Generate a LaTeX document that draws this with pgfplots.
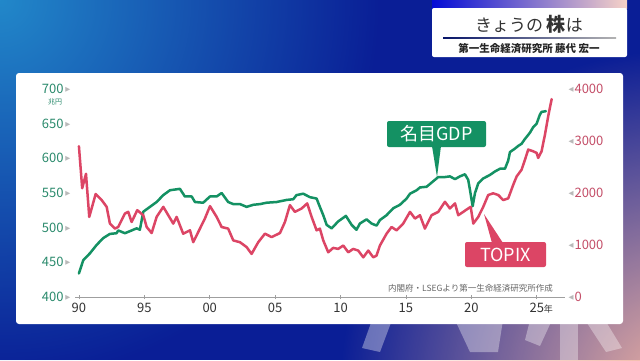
\documentclass[border=0pt]{standalone}
\usepackage{pgfplots}
\pgfplotsset{compat=1.18}
\usepackage{fontspec}
\setmainfont{Noto Sans CJK JP}
\newfontfamily\sym{DejaVu Sans}
\usetikzlibrary{fadings}
\definecolor{bgblue}{HTML}{0A1E96}
\definecolor{lightblue}{HTML}{2288CA}
\definecolor{bgpink}{HTML}{F2B4A2}
\definecolor{gdpgreen}{HTML}{149163}
\definecolor{topixred}{HTML}{DC4565}
\definecolor{ticgreen}{HTML}{2A8A6C}
\definecolor{ticred}{HTML}{C44E68}
\tikzfading[name=fadecirc, inner color=transparent!0, outer color=transparent!100]
\pgfplotstableread{
x y
1990.00 434
1990.33 453
1990.84 463
1991.35 475
1991.86 485
1992.37 491
1992.88 492
1993.00 496
1993.52 492
1994.03 496
1994.41 499
1994.66 497
1994.92 523
1995.43 530
1995.94 537
1996.45 547
1996.96 554
1997.72 556
1998.10 545
1998.62 545
1998.87 537
1999.50 536
2000.02 545
2000.53 545
2000.91 550
2001.41 537
2001.80 534
2002.31 534
2002.82 530
2003.33 533
2003.84 534
2004.35 536
2005.11 537
2005.88 540
2006.38 541
2006.64 547
2007.15 549
2007.66 544
2008.17 542
2008.42 530
2008.68 518
2008.94 504
2009.32 499
2009.82 509
2010.41 517
2010.85 504
2011.22 497
2011.48 506
2011.99 512
2012.37 506
2012.76 503
2013.01 511
2013.52 518
2014.03 528
2014.54 533
2015.05 542
2015.31 549
2015.82 554
2016.07 558
2016.58 559
2017.09 567
2017.47 573
2017.98 573
2018.36 574
2018.75 570
2019.13 574
2019.51 577
2019.76 569
2019.89 555
2020.10 531
2020.28 550
2020.53 564
2020.91 571
2021.42 576
2021.80 581
2022.19 585
2022.57 585
2022.82 597
2022.95 609
2023.33 614
2023.59 618
2023.84 621
2024.10 628
2024.48 637
2024.73 645
2024.99 650
2025.24 663
2025.37 667
2025.70 668
}\gdp
\pgfplotstableread{
x y
1990.00 2900
1990.25 2091
1990.54 2369
1990.79 1540
1991.28 1981
1991.74 1864
1992.12 1734
1992.37 1412
1992.75 1315
1993.00 1346
1993.52 1606
1993.77 1637
1994.03 1443
1994.46 1670
1994.92 1573
1995.18 1346
1995.56 1230
1995.94 1540
1996.45 1734
1997.21 1412
1997.47 1540
1997.97 1218
1998.49 1282
1998.74 1054
1999.25 1315
1999.63 1509
2000.02 1748
2000.53 1540
2000.91 1346
2001.41 1315
2001.80 1088
2002.31 1054
2002.82 960
2003.20 829
2003.71 1054
2004.22 1218
2004.73 1152
2005.37 1230
2005.75 1443
2006.13 1767
2006.51 1637
2007.03 1703
2007.45 1800
2007.79 1540
2008.17 1282
2008.42 1315
2008.68 1088
2009.06 860
2009.44 945
2009.82 925
2010.21 990
2010.59 860
2010.97 925
2011.35 893
2011.74 763
2012.12 893
2012.50 763
2012.75 796
2013.01 990
2013.52 1217
2013.90 1346
2014.29 1282
2014.79 1412
2015.31 1637
2015.69 1509
2016.07 1573
2016.45 1315
2016.96 1573
2017.47 1637
2017.98 1831
2018.36 1703
2018.75 1800
2019.00 1573
2019.38 1637
2019.76 1703
2019.95 1734
2020.15 1412
2020.53 1540
2020.91 1734
2021.29 1961
2021.67 1994
2022.06 1961
2022.44 1864
2022.82 1897
2023.20 2156
2023.46 2317
2023.84 2447
2024.10 2641
2024.35 2835
2024.73 2802
2024.99 2771
2025.11 2674
2025.37 2802
2025.63 3126
2025.88 3482
2026.14 3806
}\topix
\begin{document}
\begin{tikzpicture}[x=1pt,y=1pt]
\useasboundingbox (0,0) rectangle (640,360);
\begin{scope}
\clip (0,0) rectangle (640,360);
\fill[bgblue] (0,0) rectangle (640,360);
\fill[lightblue, path fading=fadecirc] (0,360) circle (380);
\fill[bgpink, path fading=fadecirc] (680,-30) circle (340);
% watermark shapes
\fill[white, opacity=0.35] (372,40) -- (392,40) -- (380,8) -- (362,12) -- cycle;
\fill[white, opacity=0.35] (455,40) -- (503,40) -- (498,8) -- (470,8) -- cycle;
\fill[white, opacity=0.35] (560,40) -- (578,40) -- (578,0) -- (560,0) -- cycle;
\fill[white, opacity=0.35] (530,40) -- (552,40) -- (540,14) -- (525,20) -- cycle;
\fill[white, opacity=0.35] (585,40) -- (605,40) -- (622,12) -- (606,8) -- cycle;
\end{scope}
% title box
\shade[left color=blue!60!bgblue, right color=bgpink!60!white] (432,352) rectangle (627,360);
\fill[white, rounded corners=2pt] (432,303) rectangle (627,352);
\node[text=black!80, font=\fontsize{17}{17}\selectfont] at (529,336) {きょうの \textbf{\fontsize{19}{19}\selectfont 株}は};
\shade[left color=bgblue!70!black, right color=gray!60] (443,321.5) rectangle (616,322.8);
\node[text=black!85, font=\fontsize{10.5}{10.5}\selectfont\bfseries] at (529,311) {第一生命経済研究所 藤代 宏一};
% panel
\fill[white, rounded corners=3pt] (16,36) rectangle (623,287);
% left axis
\begin{axis}[at={(75pt,63pt)}, anchor=south west, scale only axis,
  width=490pt, height=208pt,
  xmin=1989.7, xmax=2027.16, ymin=400, ymax=700,
  axis x line*=bottom, axis y line*=left,
  y axis line style={draw=none}, ytick style={draw=none},
  x axis line style={draw=gray!75, line width=0.8pt},
  xtick style={draw=gray!75, line width=0.7pt}, major tick length=4pt, tick align=center,
  xtick={1990,1995,...,2025},
  xticklabels={90,95,00,05,10,15,20,{25\makebox[0pt][l]{\fontsize{9}{9}\selectfont 年}}},
  xticklabel style={text=black!80, font=\fontsize{13}{13}\selectfont, yshift=-1pt},
  ytick={400,450,...,700},
  yticklabel={\pgfmathprintnumber{\tick}\hspace{2pt}\raisebox{2.3pt}{\sym\fontsize{6.5}{6.5}\selectfont\color{gray!55}▶}},
  yticklabel style={text=ticgreen, font=\fontsize{13}{13}\selectfont, xshift=1pt},
  /pgf/number format/assume math mode=true,
  /pgf/number format/1000 sep={},
  clip=false]
\addplot[gdpgreen, line width=2.5pt, line join=round, line cap=round] table[x=x,y=y] {\gdp};
\end{axis}
% right axis
\begin{axis}[at={(75pt,63pt)}, anchor=south west, scale only axis,
  width=490pt, height=208pt,
  xmin=1989.7, xmax=2027.16, ymin=0, ymax=4000,
  axis x line=none, axis y line*=right, xtick=\empty,
  y axis line style={draw=none}, ytick style={draw=none},
  ytick={0,1000,...,4000},
  yticklabel={\raisebox{2.3pt}{\sym\fontsize{6.5}{6.5}\selectfont\color{gray!55}◀}\hspace{1pt}\pgfmathprintnumber{\tick}},
  yticklabel style={text=ticred, font=\fontsize{13}{13}\selectfont, xshift=0pt},
  /pgf/number format/assume math mode=true,
  /pgf/number format/1000 sep={},
  clip=false]
\addplot[topixred, line width=2.5pt, line join=round, line cap=round] table[x=x,y=y] {\topix};
\end{axis}
% unit
\node[text=ticgreen, font=\fontsize{7}{7}\selectfont] at (55,258) {兆円};
% source
\node[anchor=east, text=black!60, font=\fontsize{8.5}{8.5}\selectfont, inner sep=0pt] at (553,72) {内閣府・LSEGより第一生命経済研究所作成};
% GDP label
\fill[gdpgreen] (432,214) -- (441,214) -- (437,183) -- cycle;
\fill[gdpgreen, rounded corners=2pt] (387,213) rectangle (486,239);
\node[text=white, font=\fontsize{18}{18}\selectfont] at (436.5,226) {名目GDP};
% TOPIX label
\fill[topixred] (492,117) -- (503,117) -- (484,146) -- cycle;
\fill[topixred, rounded corners=2pt] (465,93) rectangle (546,118);
\node[text=white, font=\fontsize{18}{18}\selectfont] at (505.5,105.5) {TOPIX};
\end{tikzpicture}
\end{document}
